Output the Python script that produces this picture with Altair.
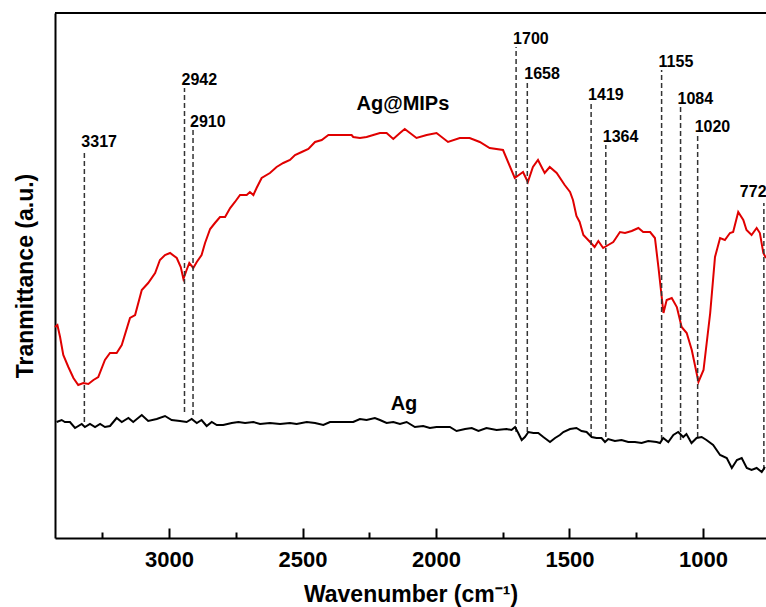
import altair as alt
import pandas as pd

FONT = "Liberation Sans"
W, H = 711, 525

# ---- data (wavenumber, transmittance in arbitrary units) ----
red_wn = [3427, 3418, 3408, 3396, 3377, 3358, 3340, 3321, 3302, 3283, 3265, 3240, 3221, 3196,
          3177, 3146, 3127, 3102, 3078, 3052, 3034, 3015, 2996, 2971, 2956, 2946, 2934, 2924,
          2909, 2896, 2878, 2865, 2846, 2828, 2809, 2790, 2771, 2753, 2734, 2709, 2697, 2684,
          2672, 2653, 2622, 2597, 2572, 2547, 2528, 2503, 2478, 2453, 2428, 2403, 2360, 2316,
          2310, 2285, 2260, 2235, 2210, 2185, 2160, 2135, 2117, 2073, 2035, 1998, 1955, 1911,
          1874, 1836, 1799, 1749, 1705, 1674, 1656, 1637, 1618, 1593, 1574, 1548, 1518, 1498,
          1487, 1474, 1462, 1448, 1423, 1406, 1392, 1374, 1355, 1336, 1311, 1292, 1267, 1242,
          1224, 1198, 1180, 1167, 1148, 1136, 1117, 1098, 1080, 1061, 1042, 1017, 998, 973,
          955, 936, 918, 899, 887, 868, 849, 837, 818, 799, 787, 774, 764]
red_t = [211, 213, 201, 183, 171, 160, 153, 155, 154, 158, 161, 178, 185, 185,
         193, 220, 223, 248, 255, 265, 278, 283, 285, 280, 271, 259, 268, 275,
         270, 276, 283, 295, 309, 315, 321, 321, 330, 336, 343, 343, 346, 343,
         350, 360, 365, 371, 375, 378, 383, 386, 389, 396, 398, 403, 403, 403,
         401, 400, 401, 403, 405, 405, 399, 405, 409, 400, 403, 405, 396, 400,
         400, 396, 390, 388, 360, 366, 356, 371, 378, 365, 371, 365, 353, 346,
         338, 322, 316, 303, 296, 291, 297, 290, 293, 296, 306, 305, 307, 310,
         306, 306, 300, 271, 225, 238, 240, 231, 211, 205, 188, 156, 168, 225,
         281, 300, 298, 305, 306, 326, 318, 308, 303, 310, 305, 285, 280]

black_wn = [3421, 3402, 3390, 3371, 3352, 3327, 3315, 3296, 3277, 3258, 3240, 3221, 3196, 3177,
            3152, 3134, 3102, 3078, 3046, 3015, 2990, 2959, 2934, 2915, 2896, 2878, 2859, 2840,
            2821, 2797, 2765, 2740, 2715, 2684, 2659, 2622, 2584, 2547, 2522, 2484, 2453, 2422,
            2397, 2360, 2310, 2285, 2260, 2229, 2210, 2185, 2160, 2135, 2110, 2079, 2048, 2023,
            1998, 1973, 1948, 1923, 1891, 1866, 1841, 1811, 1773, 1736, 1717, 1704, 1692, 1679,
            1667, 1654, 1635, 1617, 1598, 1573, 1554, 1536, 1523, 1498, 1474, 1455, 1436, 1417,
            1399, 1380, 1367, 1355, 1330, 1305, 1280, 1255, 1230, 1205, 1174, 1161, 1149, 1130,
            1111, 1093, 1074, 1062, 1043, 1024, 1005, 987, 962, 936, 911, 892, 873, 855,
            836, 818, 799, 780, 768]
black_t = [116, 118, 116, 116, 110, 114, 111, 114, 111, 114, 111, 112, 120, 116,
           120, 116, 123, 117, 119, 122, 118, 117, 116, 119, 115, 118, 112, 116,
           113, 113, 115, 116, 115, 116, 114, 115, 114, 115, 114, 116, 115, 113,
           116, 116, 116, 119, 118, 120, 118, 115, 116, 114, 116, 111, 112, 110,
           111, 111, 111, 107, 109, 110, 107, 110, 108, 109, 108, 111, 105, 98,
           101, 106, 105, 105, 101, 96, 100, 103, 106, 109, 110, 107, 106, 101,
           100, 100, 96, 99, 97, 98, 96, 96, 95, 97, 96, 95, 100, 96,
           103, 106, 101, 104, 95, 100, 101, 98, 93, 83, 80, 70, 78, 80,
           70, 68, 70, 66, 71]

peak_wn = [3317, 2942, 2910, 1700, 1658, 1419, 1364, 1155, 1084, 1020, 772]
peak_labels = ["3317", "2942", "2910", "1700", "1658", "1419", "1364", "1155", "1084", "1020", "772"]
peak_top = [388, 450, 408, 491, 456, 435, 393, 468, 431, 403, 335]
peak_bottom = [116, 126, 123, 106, 106, 101, 101, 98, 98, 101, 68]

series_names = ["Ag@MIPs", "Ag"]
series_label_wn = [2124, 2120]
series_label_t = [428, 128]

major_ticks = [3000, 2500, 2000, 1500, 1000]
minor_ticks = [3250, 2750, 2250, 1750, 1250]

red_df = pd.DataFrame({"wn": red_wn, "t": red_t})
black_df = pd.DataFrame({"wn": black_wn, "t": black_t})
peak_df = pd.DataFrame({"wn": peak_wn, "label": peak_labels, "top": peak_top, "bottom": peak_bottom})
peak_main_df = peak_df.iloc[:-1]
peak_edge_df = peak_df.iloc[-1:]
name_df = pd.DataFrame({"wn": series_label_wn, "t": series_label_t, "name": series_names})

xscale = alt.Scale(domain=[3427, 764], nice=False, zero=False)
yscale = alt.Scale(domain=[0, 525], nice=False, zero=False)

main_x_axis = alt.Axis(orient="bottom", values=major_ticks, format="d", grid=False,
                       labelFont=FONT, labelFontSize=22, labelFontWeight="bold",
                       labelColor="black", labelPadding=11, ticks=False, tickSize=0,
                       domainColor="black", domainWidth=2,
                       title="Wavenumber (cm⁻¹)", titleFont=FONT, titleFontSize=23,
                       titleFontWeight="bold", titleColor="black", titlePadding=13)
y_axis = alt.Axis(orient="left", labels=False, ticks=False, grid=False,
                  domainColor="black", domainWidth=2,
                  title="Tranmittance (a.u.)", titleFont=FONT, titleFontSize=23,
                  titleFontWeight="bold", titleColor="black", titlePadding=18)
major_tick_axis = alt.Axis(orient="top", offset=-H, values=major_ticks, labels=False,
                           domain=False, grid=False, ticks=True, tickSize=10, tickWidth=2,
                           tickColor="black", title=None)
minor_tick_axis = alt.Axis(orient="top", offset=-H, values=minor_ticks, labels=False,
                           domain=False, grid=False, ticks=True, tickSize=6, tickWidth=2,
                           tickColor="black", title=None)

rules = alt.Chart(peak_df).mark_rule(color="#333333", strokeWidth=1.5, strokeDash=[5, 3]).encode(
    x=alt.X("wn:Q", scale=xscale, axis=minor_tick_axis),
    y=alt.Y("bottom:Q", scale=yscale, axis=None),
    y2="top:Q",
)

black = alt.Chart(black_df).mark_line(color="black", strokeWidth=2).encode(
    x=alt.X("wn:Q", scale=xscale, axis=major_tick_axis),
    y=alt.Y("t:Q", scale=yscale, axis=None),
    order="wn:Q",
)

red = alt.Chart(red_df).mark_line(color="#e00000", strokeWidth=2).encode(
    x=alt.X("wn:Q", scale=xscale, axis=main_x_axis),
    y=alt.Y("t:Q", scale=yscale, axis=y_axis),
    order="wn:Q",
)

peak_text = alt.Chart(peak_main_df).mark_text(font=FONT, fontSize=16, fontWeight="bold", color="black",
                                              align="left", baseline="alphabetic", dx=-3, dy=-3).encode(
    x=alt.X("wn:Q", scale=xscale, axis=None),
    y=alt.Y("top:Q", scale=yscale, axis=None),
    text="label:N",
)

peak_edge_text = alt.Chart(peak_edge_df).mark_text(font=FONT, fontSize=16, fontWeight="bold", color="black",
                                                   align="left", baseline="alphabetic", dx=-24, dy=-6).encode(
    x=alt.X("wn:Q", scale=xscale, axis=None),
    y=alt.Y("top:Q", scale=yscale, axis=None),
    text="label:N",
)

name_text = alt.Chart(name_df).mark_text(font=FONT, fontSize=20, fontWeight="bold", color="black",
                                         align="center", baseline="alphabetic").encode(
    x=alt.X("wn:Q", scale=xscale, axis=None),
    y=alt.Y("t:Q", scale=yscale, axis=None),
    text="name:N",
)

top_border = alt.Chart(peak_df).mark_rule(color="black", strokeWidth=2).encode(
    x=alt.value(0), x2=alt.value(W + 5), y=alt.value(0)
)

chart = alt.layer(red, rules, black, peak_text, peak_edge_text, name_text, top_border).resolve_axis(
    x="independent", y="independent"
).properties(
    width=W, height=H,
    autosize=alt.AutoSizeParams(type="none"),
    padding={"left": 55, "top": 13, "right": 0, "bottom": 69},
    background="white",
).configure_view(stroke=None)

chart.save("out.html", embed_options={"renderer": "svg", "actions": False})
